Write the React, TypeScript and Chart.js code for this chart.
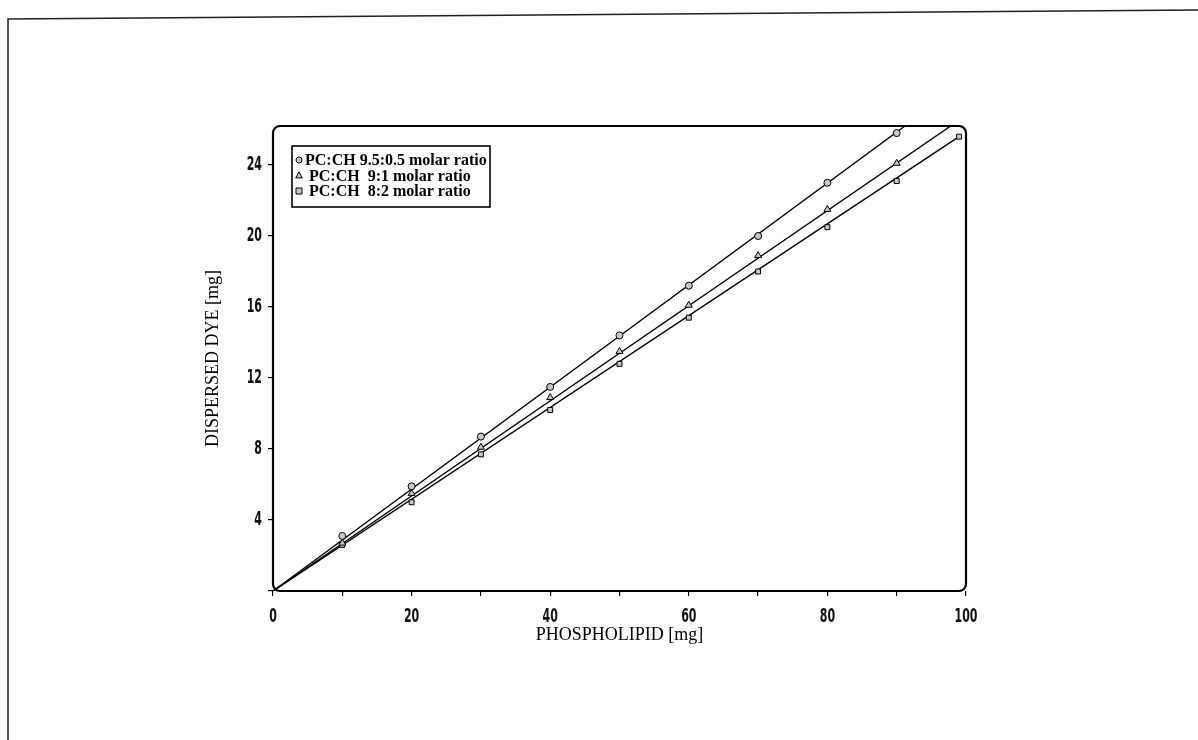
import React, { useEffect, useRef } from 'react';
import { Chart, registerables } from 'chart.js';

Chart.register(...registerables);

// ---- data ----
const xValues = [10, 20, 30, 40, 50, 60, 70, 80, 90];
const circleY = [3.1, 5.9, 8.7, 11.5, 14.4, 17.2, 20.0, 23.0, 25.8];
const triangleY = [2.7, 5.5, 8.1, 10.9, 13.5, 16.1, 18.9, 21.5, 24.1];
const squareX = [10, 20, 30, 40, 50, 60, 70, 80, 90, 99];
const squareY = [2.6, 5.0, 7.7, 10.2, 12.8, 15.4, 18.0, 20.5, 23.1, 25.6];

// fitted straight lines (start / end points)
const circleFitX = [0, 91.2];
const circleFitY = [0, 26.2];
const triangleFitX = [0, 97.8];
const triangleFitY = [0, 26.2];
const squareFitX = [0, 99];
const squareFitY = [0, 25.6];

const seriesLabels = ['PC:CH 9.5:0.5 molar ratio', ' PC:CH  9:1 molar ratio', ' PC:CH  8:2 molar ratio'];
const seriesStyles = ['circle', 'triangle', 'rect'];
const xTickLabels = ['0', '20', '40', '60', '80', '100'];
const yTickLabels = ['4', '8', '12', '16', '20', '24'];
const xTitle = 'PHOSPHOLIPID [mg]';
const yTitle = 'DISPERSED DYE [mg]';

const toPts = (xs: number[], ys: number[]) => xs.map((x, i) => ({ x, y: ys[i] }));

const titleFont = { family: "'Liberation Serif', 'DejaVu Serif', serif", size: 18 };
const TICK_FONT = "bold 20px 'DejaVu Sans', sans-serif";
const TICK_SQUEEZE = 0.55;

const pagePlugin = {
  id: 'page',
  beforeDraw(chart: any) {
    const { ctx, width, height } = chart;
    ctx.save();
    ctx.fillStyle = '#fff';
    ctx.fillRect(0, 0, width, height);
    ctx.strokeStyle = '#222';
    ctx.lineWidth = 1.5;
    ctx.beginPath();
    ctx.moveTo(8, height);
    ctx.lineTo(8, 19);
    ctx.lineTo(width, 10);
    ctx.stroke();
    ctx.restore();
  },
};

const framePlugin = {
  id: 'frame',
  afterDatasetsDraw(chart: any) {
    const { ctx, chartArea: a } = chart;
    ctx.save();
    ctx.strokeStyle = '#000';
    ctx.lineWidth = 2.2;
    ctx.beginPath();
    (ctx as any).roundRect(a.left, a.top, a.right - a.left, a.bottom - a.top, 7);
    ctx.stroke();
    ctx.restore();
  },
};

// condensed tick labels, positioned with the chart's own scales
const tickLabelPlugin = {
  id: 'condensedTicks',
  afterDraw(chart: any) {
    const { ctx, chartArea: a, scales } = chart;
    ctx.save();
    ctx.font = TICK_FONT;
    ctx.fillStyle = '#111';
    ctx.textBaseline = 'middle';
    const put = (text: string, x: number, y: number, align: 'center' | 'right') => {
      ctx.save();
      ctx.translate(x, y);
      ctx.scale(TICK_SQUEEZE, 1);
      ctx.textAlign = align;
      ctx.fillText(text, 0, 0);
      ctx.restore();
    };
    xTickLabels.forEach((t) => put(t, scales.x.getPixelForValue(Number(t)), a.bottom + 26, 'center'));
    yTickLabels.forEach((t) => put(t, a.left - 11, scales.y.getPixelForValue(Number(t)), 'right'));
    ctx.restore();
  },
};

function drawMarker(ctx: CanvasRenderingContext2D, style: string, x: number, y: number, r: number) {
  ctx.beginPath();
  if (style === 'circle') {
    ctx.arc(x, y, r, 0, Math.PI * 2);
  } else if (style === 'triangle') {
    ctx.moveTo(x, y - r * 1.2);
    ctx.lineTo(x + r * 1.1, y + r * 0.8);
    ctx.lineTo(x - r * 1.1, y + r * 0.8);
    ctx.closePath();
  } else {
    ctx.rect(x - r, y - r, 2 * r, 2 * r);
  }
  ctx.fill();
  ctx.stroke();
}

const legendPlugin = {
  id: 'innerLegend',
  afterDraw(chart: any) {
    const { ctx, chartArea: a } = chart;
    const left = a.left + 19;
    const top = a.top + 20;
    const w = 198;
    const h = 61;
    ctx.save();
    ctx.fillStyle = '#fff';
    ctx.fillRect(left, top, w, h);
    ctx.strokeStyle = '#000';
    ctx.lineWidth = 1.6;
    ctx.strokeRect(left, top, w, h);
    ctx.font = "bold 16px 'Liberation Serif', 'DejaVu Serif', serif";
    ctx.textBaseline = 'middle';
    seriesLabels.forEach((label, i) => {
      const cy = top + 14 + i * 15.5;
      const ds = chart.data.datasets[i];
      ctx.save();
      ctx.fillStyle = ds.pointBackgroundColor;
      ctx.strokeStyle = '#000';
      ctx.lineWidth = 1;
      drawMarker(ctx, seriesStyles[i], left + 7, cy, 3);
      ctx.restore();
      ctx.fillStyle = '#000';
      ctx.fillText(label, left + 13, cy + 1);
    });
    ctx.restore();
  },
};

export default function App() {
  const ref = useRef<HTMLCanvasElement | null>(null);

  useEffect(() => {
    if (!ref.current) return;
    const markerCommon = {
      showLine: false,
      borderColor: '#000',
      pointBorderColor: '#000',
      pointBackgroundColor: '#c8c8c8',
      pointBorderWidth: 1,
      pointRadius: 3.5,
    };
    const lineCommon = {
      type: 'line' as const,
      borderColor: '#000',
      borderWidth: 1.4,
      pointRadius: 0,
      fill: false,
      tension: 0,
    };
    const chart = new Chart(ref.current, {
      type: 'scatter',
      data: {
        datasets: [
          { ...markerCommon, label: seriesLabels[0], data: toPts(xValues, circleY), pointStyle: 'circle' },
          { ...markerCommon, label: seriesLabels[1], data: toPts(xValues, triangleY), pointStyle: 'triangle', pointRadius: 4 },
          { ...markerCommon, label: seriesLabels[2], data: toPts(squareX, squareY), pointStyle: 'rect' },
          { ...lineCommon, label: 'fit1', data: toPts(circleFitX, circleFitY) },
          { ...lineCommon, label: 'fit2', data: toPts(triangleFitX, triangleFitY) },
          { ...lineCommon, label: 'fit3', data: toPts(squareFitX, squareFitY) },
        ] as any,
      },
      options: {
        animation: false,
        responsive: false,
        layout: { padding: { top: 126, right: 232, bottom: 0, left: 0 } },
        plugins: { legend: { display: false }, tooltip: { enabled: false } },
        scales: {
          x: {
            type: 'linear',
            min: 0,
            max: 100,
            afterFit: (s: any) => { s.height = 149; },
            border: { display: false },
            grid: { display: true, drawOnChartArea: false, drawTicks: true, tickLength: 5, color: '#000', lineWidth: 1.2 },
            ticks: { stepSize: 10, autoSkip: false, display: false },
            title: { display: true, text: xTitle, color: '#000', font: titleFont, padding: { top: 0, bottom: 94 } },
          },
          y: {
            type: 'linear',
            min: 0,
            max: 26.2,
            afterFit: (s: any) => { s.width = 273; },
            border: { display: false },
            grid: { display: true, drawOnChartArea: false, drawTicks: true, tickLength: 5, color: '#000', lineWidth: 1.2 },
            ticks: { stepSize: 4, includeBounds: false, display: false },
            title: { display: true, text: yTitle, color: '#000', font: titleFont, padding: { top: 202, bottom: 0 } },
          },
        },
      },
      plugins: [pagePlugin, framePlugin, legendPlugin, tickLabelPlugin],
    });
    return () => chart.destroy();
  }, []);

  return (
    <div style={{ position: 'absolute', left: 0, top: 0, width: 1198, height: 740, background: '#fff' }}>
      <canvas ref={ref} width={1198} height={740} style={{ display: 'block' }} />
    </div>
  );
}
